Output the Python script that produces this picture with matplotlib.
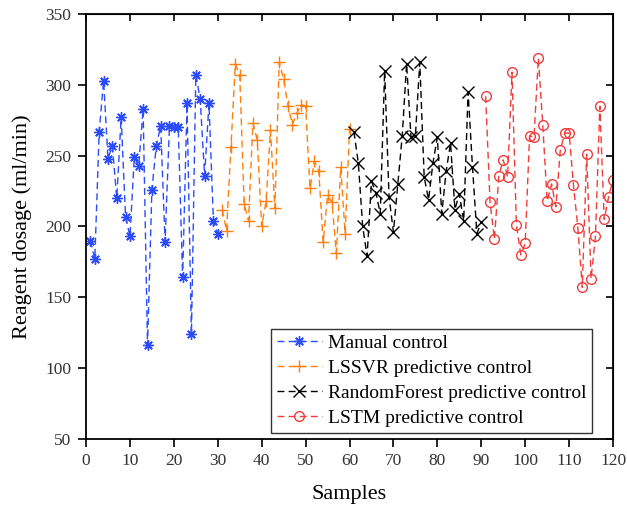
import numpy as np
import matplotlib
matplotlib.use("Agg")
import matplotlib.pyplot as plt

plt.rcParams['font.family'] = ['Liberation Serif', 'DejaVu Serif']

# data
manual = [190, 177, 267, 303, 248, 257, 220, 277, 207, 193,
          249, 243, 283, 116, 226, 257, 271, 189, 271, 270,
          270, 164, 287, 124, 307, 290, 236, 287, 204, 195]
lssvr = [212, 197, 256, 315, 307, 216, 204, 273, 261, 200,
         218, 268, 213, 316, 304, 285, 272, 280, 286, 285,
         227, 246, 239, 189, 222, 217, 181, 242, 195, 269]
rforest = [267, 245, 200, 179, 232, 224, 209, 310, 221, 196,
           230, 264, 315, 263, 264, 316, 235, 219, 245, 263,
           209, 239, 259, 212, 223, 204, 295, 242, 195, 203]
lstm = [292, 217, 191, 236, 247, 235, 309, 201, 180, 188,
        264, 263, 319, 272, 218, 230, 214, 254, 266, 266,
        229, 199, 157, 251, 163, 193, 285, 205, 221, 233]

series = [manual, lssvr, rforest, lstm]
labels = ['Manual control', 'LSSVR predictive control',
          'RandomForest predictive control', 'LSTM predictive control']
colors = ['#2a4bff', '#ff7f0e', 'black', '#f23c3c']
markers = [(8, 2, 0), '+', 'x', 'o']
sizes = [7.5, 8, 8, 7]

fig = plt.figure(figsize=(6.27, 5.05), dpi=100)
ax = fig.add_axes([0.1372, 0.131, 0.8405, 0.841])

start = 1
for vals, lab, c, m, ms in zip(series, labels, colors, markers, sizes):
    x = np.arange(start, start + len(vals))
    ax.plot(x, vals, linestyle=(0, (5, 3)), color=c, linewidth=1.0,
            marker=m, markersize=ms, markerfacecolor='none',
            markeredgecolor=c, markeredgewidth=1.0, label=lab)
    start += len(vals)

ax.set_xlim(0, 120)
ax.set_ylim(50, 350)
ax.set_xticks(np.arange(0, 121, 10))
ax.set_yticks(np.arange(50, 351, 50))
ax.tick_params(direction='out', length=5.5, width=1.2, labelsize=12.5,
               labelcolor='#333333', pad=5)
for s in ax.spines.values():
    s.set_linewidth(1.3)

top = ax.secondary_xaxis('top')
top.set_xticks(np.arange(0, 121, 10))
top.tick_params(direction='in', length=5, width=1.2, labeltop=False)
right = ax.secondary_yaxis('right')
right.set_yticks(np.arange(50, 351, 50))
right.tick_params(direction='in', length=5, width=1.2, labelright=False)

ax.set_xlabel('Samples', fontsize=16, labelpad=11)
ax.set_ylabel('Reagent dosage (ml/min)', fontsize=16, labelpad=10)

leg = ax.legend(loc='lower right', bbox_to_anchor=(0.96, 0.014), fontsize=14,
                frameon=True, fancybox=False, edgecolor='#333333',
                framealpha=1, borderpad=0.3, labelspacing=0.38,
                handlelength=2.3, handletextpad=0.3, borderaxespad=0)
leg.get_frame().set_linewidth(1.0)

fig.savefig('out.png', dpi=100)
